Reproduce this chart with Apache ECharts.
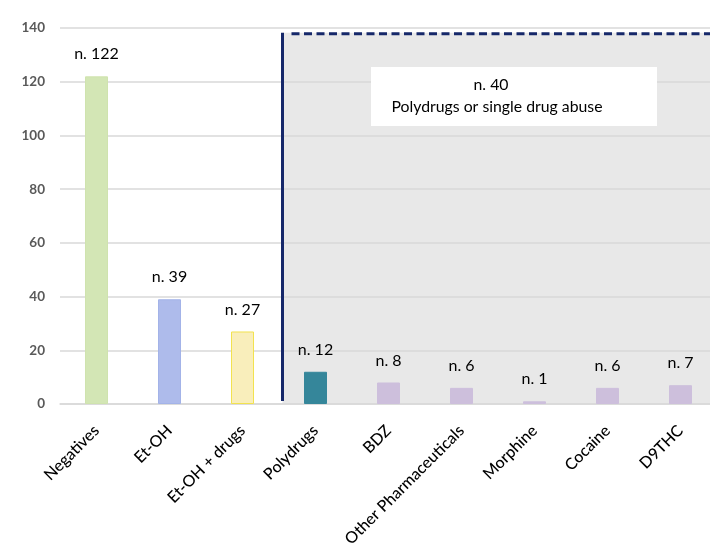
<!DOCTYPE html>
<html>
<head>
<meta charset="utf-8">
<script src="https://cdn.jsdelivr.net/npm/echarts@6/dist/echarts.min.js"></script>
<style>
    html, body { margin: 0; padding: 0; background: #fff; overflow: hidden; }
    /* the plot runs past the right edge in the original, so the canvas is a bit wider than the window */
    #chart { width: 720px; height: 558px; }
</style>
</head>
<body>
<div id="chart"></div>
<script>
// categories and counts
const categories = ['Negatives', 'Et-OH', 'Et-OH + drugs', 'Polydrugs', 'BDZ',
    'Other Pharmaceuticals', 'Morphine', 'Cocaine', 'D9THC'];
const counts = [122, 39, 27, 12, 8, 6, 1, 6, 7];
const barColors = ['#d3e6b5', '#aebbeb', '#f9eebb', '#35869a', '#cdbfdc',
    '#cdbfdc', '#cdbfdc', '#cdbfdc', '#cdbfdc'];
const barBorders = ['#cfe3ae', '#a3b3e8', '#f2e24f', '#35869a', '#cdbfdc',
    '#cdbfdc', '#cdbfdc', '#cdbfdc', '#cdbfdc'];
const yTicks = { min: 0, max: 140, interval: 20 };
const boxTitle = 'n. 40';
const boxText = 'Polydrugs or single drug abuse';

const fontFamily = 'Lato, "Open Sans", sans-serif';
const navy = '#16286a';

const chart = echarts.init(document.getElementById('chart'), null, { renderer: 'canvas' });

const option = {
    backgroundColor: '#fff',
    animation: false,
    grid: { left: 60, top: 28, width: 657, height: 376, containLabel: false },
    xAxis: {
        type: 'category',
        data: categories,
        axisLine: { show: true, lineStyle: { color: '#d9d9d9', width: 1.5 } },
        axisTick: { show: false },
        axisLabel: {
            rotate: 45,
            interval: 0,
            margin: 24,
            color: '#000',
            fontSize: 16,
            fontWeight: 500,
            fontFamily: fontFamily,
        },
    },
    yAxis: {
        type: 'value',
        min: yTicks.min,
        max: yTicks.max,
        interval: yTicks.interval,
        axisLine: { show: false },
        axisTick: { show: false },
        splitLine: { lineStyle: { color: '#d9d9d9', width: 1.5 } },
        axisLabel: {
            margin: 15,
            color: '#595959',
            fontSize: 13.5,
            fontWeight: 'bold',
            fontFamily: fontFamily,
        },
    },
    series: [{
        type: 'bar',
        barWidth: 23,
        z: 5,
        data: counts.map((v, i) => ({
            value: v,
            itemStyle: { color: barColors[i], borderColor: barBorders[i], borderWidth: 1 },
        })),
        label: {
            show: true,
            position: 'top',
            distance: 14,
            color: '#000',
            fontSize: 16,
            fontFamily: fontFamily,
            formatter: p => 'n. ' + p.value,
        },
    }],
};

chart.setOption(option);

// shaded group region, placed from the axis scales
const polyX = chart.convertToPixel({ xAxisIndex: 0 }, 'Polydrugs');
const y0 = chart.convertToPixel({ yAxisIndex: 0 }, 0);
const yTop = chart.convertToPixel({ yAxisIndex: 0 }, 138.2);
const left = polyX - 33;
const right = 720;

chart.setOption({
    graphic: [
        {
            type: 'rect',
            z: -10,
            silent: true,
            shape: { x: left, y: yTop, width: right - left, height: y0 - yTop },
            style: { fill: '#e8e8e8' },
        },
        {
            type: 'rect',
            z: 10,
            silent: true,
            shape: { x: 371, y: 67, width: 286, height: 59 },
            style: { fill: '#fff' },
        },
        {
            type: 'text',
            z: 11,
            silent: true,
            x: 491, y: 85,
            style: {
                text: boxTitle, fill: '#000', font: '15.8px ' + fontFamily,
                align: 'center', verticalAlign: 'middle',
            },
        },
        {
            type: 'text',
            z: 11,
            silent: true,
            x: 497, y: 107,
            style: {
                text: boxText, fill: '#000', font: '15.8px ' + fontFamily,
                align: 'center', verticalAlign: 'middle',
            },
        },
        {
            type: 'line',
            z: 12,
            silent: true,
            shape: { x1: left, y1: yTop, x2: left, y2: y0 - 3 },
            style: { stroke: navy, lineWidth: 3 },
        },
        {
            type: 'line',
            z: 12,
            silent: true,
            shape: { x1: left + 9, y1: yTop + 1, x2: right, y2: yTop + 1 },
            style: { stroke: navy, lineWidth: 3, lineDash: [8, 4.5] },
        },
    ],
});
</script>
</body>
</html>
